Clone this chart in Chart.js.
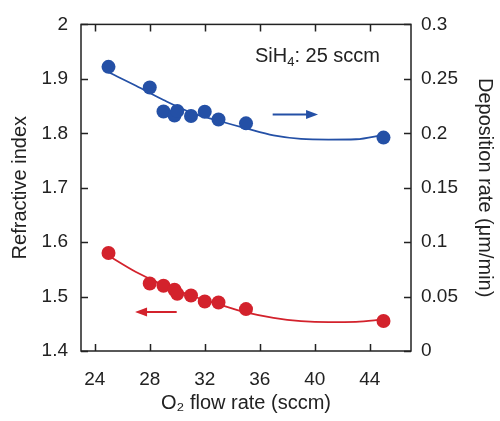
<!DOCTYPE html>
<html lang="en">
<head>
<meta charset="UTF-8">
<title>Refractive index and deposition rate vs O2 flow</title>
<script src="https://cdn.jsdelivr.net/npm/chart.js"></script>
<style>
  html, body { margin: 0; padding: 0; background: #fff; }
  #wrap { width: 500px; height: 421px; }
</style>
</head>
<body>
<div id="wrap"><canvas id="chart" width="500" height="421"></canvas></div>
<script>
// measured points
const o2Flow = [25, 28, 29, 29.8, 30, 31, 32, 33, 35, 45];
const refractiveIndex = [1.580, 1.524, 1.520, 1.5125, 1.505, 1.502, 1.491, 1.489, 1.477, 1.455];
const depositionRate = [0.261, 0.242, 0.220, 0.2163, 0.2204, 0.2158, 0.2198, 0.2127, 0.2091, 0.196];

// fitted curves
const fitFlow = [25, 27, 29, 31, 33, 35, 37, 39, 41, 43, 45];
const indexFit = [1.575, 1.545, 1.521, 1.502, 1.486, 1.471, 1.461, 1.455, 1.453, 1.4535, 1.458];
const rateFit = [0.256, 0.2436, 0.2305, 0.219, 0.2115, 0.2045, 0.198, 0.1948, 0.1942, 0.1945, 0.1985];

// tick labels
const flowTicks = [24, 28, 32, 36, 40, 44];
const indexTicks = [1.4, 1.5, 1.6, 1.7, 1.8, 1.9, 2];
const rateTicks = [0, 0.05, 0.1, 0.15, 0.2, 0.25, 0.3];

const BLUE = '#2450a6';
const RED = '#d3222c';
const INK = '#222';
const FONT = '"Liberation Sans", Arial, Helvetica, sans-serif';

const pts = (xs, ys) => xs.map((x, i) => ({ x: x, y: ys[i] }));
const fmt = v => String(+v.toFixed(2));

// box, inward ticks, arrows and note
const decor = {
    id: 'decor',
    afterDatasetsDraw(chart) {
        const ctx = chart.ctx;
        const a = chart.chartArea;
        const x = chart.scales.x, yl = chart.scales.y, yr = chart.scales.y1;
        const tl = 7;
        ctx.save();
        ctx.strokeStyle = INK;
        ctx.lineWidth = 1.5;
        ctx.strokeRect(a.left, a.top, a.right - a.left, a.bottom - a.top);
        ctx.beginPath();
        flowTicks.forEach(v => {
            const px = Math.round(x.getPixelForValue(v)) + 0.5;
            ctx.moveTo(px, a.bottom); ctx.lineTo(px, a.bottom - tl);
            ctx.moveTo(px, a.top); ctx.lineTo(px, a.top + tl);
        });
        indexTicks.forEach(v => {
            const py = Math.round(yl.getPixelForValue(v)) + 0.5;
            ctx.moveTo(a.left, py); ctx.lineTo(a.left + tl, py);
        });
        rateTicks.forEach(v => {
            const py = Math.round(yr.getPixelForValue(v)) + 0.5;
            ctx.moveTo(a.right, py); ctx.lineTo(a.right - tl, py);
        });
        ctx.stroke();

        function arrow(x0, x1, py, color) {
            const dir = Math.sign(x1 - x0);
            ctx.strokeStyle = color;
            ctx.fillStyle = color;
            ctx.lineWidth = 2;
            ctx.beginPath();
            ctx.moveTo(x0, py); ctx.lineTo(x1 - dir * 10, py);
            ctx.stroke();
            ctx.beginPath();
            ctx.moveTo(x1, py);
            ctx.lineTo(x1 - dir * 12, py - 4.5);
            ctx.lineTo(x1 - dir * 12, py + 4.5);
            ctx.closePath();
            ctx.fill();
        }
        arrow(x.getPixelForValue(36.94), x.getPixelForValue(40.24), yr.getPixelForValue(0.2173), BLUE);
        arrow(x.getPixelForValue(29.96), x.getPixelForValue(26.93), yl.getPixelForValue(1.4716), RED);

        // SiH4 note
        let tx = x.getPixelForValue(35.65);
        const ty = yl.getPixelForValue(1.9316);
        ctx.fillStyle = INK;
        ctx.textBaseline = 'alphabetic';
        ctx.textAlign = 'left';
        ctx.font = '20px ' + FONT;
        ctx.fillText('SiH', tx, ty);
        tx += ctx.measureText('SiH').width;
        ctx.font = '13px ' + FONT;
        ctx.fillText('4', tx, ty + 4);
        tx += ctx.measureText('4').width;
        ctx.font = '20px ' + FONT;
        ctx.fillText(': 25 sccm', tx, ty);
        ctx.restore();
    }
};

new Chart(document.getElementById('chart'), {
    type: 'scatter',
    data: {
        datasets: [
            {
                label: 'Deposition rate',
                data: pts(o2Flow, depositionRate),
                yAxisID: 'y1',
                backgroundColor: BLUE,
                borderColor: BLUE,
                borderWidth: 0,
                pointRadius: 7,
                order: 0
            },
            {
                label: 'Deposition rate fit',
                data: pts(fitFlow, rateFit),
                yAxisID: 'y1',
                showLine: true,
                borderColor: BLUE,
                borderWidth: 1.8,
                pointRadius: 0,
                cubicInterpolationMode: 'monotone',
                order: 1
            },
            {
                label: 'Refractive index',
                data: pts(o2Flow, refractiveIndex),
                yAxisID: 'y',
                backgroundColor: RED,
                borderColor: RED,
                borderWidth: 0,
                pointRadius: 7,
                order: 0
            },
            {
                label: 'Refractive index fit',
                data: pts(fitFlow, indexFit),
                yAxisID: 'y',
                showLine: true,
                borderColor: RED,
                borderWidth: 1.8,
                pointRadius: 0,
                cubicInterpolationMode: 'monotone',
                order: 1
            }
        ]
    },
    options: {
        responsive: false,
        animation: false,
        layout: { padding: { top: 22, left: 0, right: 0, bottom: 0 } },
        plugins: { legend: { display: false }, tooltip: { enabled: false } },
        scales: {
            x: {
                type: 'linear',
                position: 'bottom',
                min: 23,
                max: 47,
                afterBuildTicks: s => { s.ticks = flowTicks.map(v => ({ value: v })); },
                afterFit: s => { s.height = 70; },
                grid: { display: false, drawTicks: false },
                border: { display: false },
                ticks: { padding: 17, color: INK, font: { family: FONT, size: 19 }, callback: v => fmt(v) },
                title: { display: true, text: 'O₂ flow rate (sccm)', color: INK, font: { family: FONT, size: 20 }, padding: { top: 0, bottom: 6 } }
            },
            y: {
                type: 'linear',
                position: 'left',
                min: 1.4,
                max: 2,
                afterBuildTicks: s => { s.ticks = indexTicks.map(v => ({ value: v })); },
                afterFit: s => { s.width = 81; },
                grid: { display: false, drawTicks: false },
                border: { display: false },
                ticks: { padding: 13, color: INK, font: { family: FONT, size: 19 }, callback: v => fmt(v) },
                title: { display: true, text: 'Refractive index', color: INK, font: { family: FONT, size: 20 }, padding: { top: 8, bottom: 0 } }
            },
            y1: {
                type: 'linear',
                position: 'right',
                min: 0,
                max: 0.3,
                afterBuildTicks: s => { s.ticks = rateTicks.map(v => ({ value: v })); },
                afterFit: s => { s.width = 89; },
                grid: { display: false, drawTicks: false },
                border: { display: false },
                ticks: { padding: 10, color: INK, font: { family: FONT, size: 19 }, callback: v => fmt(v) },
                title: { display: true, text: 'Deposition rate (μm/min)', color: INK, font: { family: FONT, size: 20 }, padding: { top: 3, bottom: 0 } }
            }
        }
    },
    plugins: [decor]
});
</script>
</body>
</html>
